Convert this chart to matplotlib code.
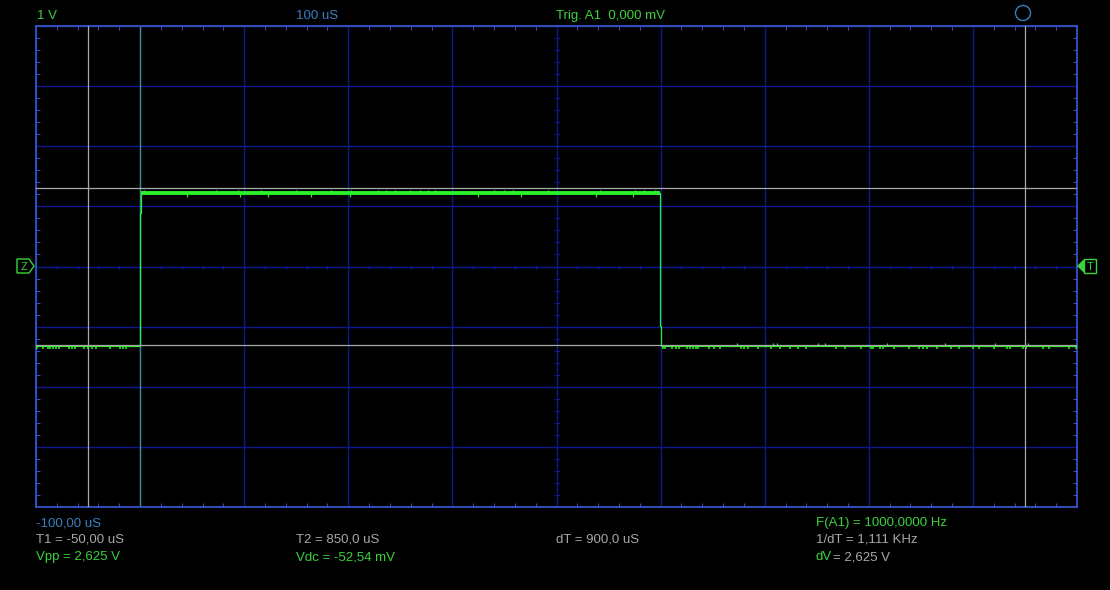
import numpy as np
import matplotlib.pyplot as plt
from matplotlib.patches import Polygon, Circle

# screen settings
t_left, t_right = -100, 900          # us, 100 uS/div
v_bottom, v_top = -4, 4              # V, 1 V/div
trig_t = 0.0
cursor_t = [-50.0, 850.0]
cursor_v = [1.3125, -1.3125]

# trace (step levels)
trace_t = [-100, 0.0, 0.0, 1.2, 1.2, 499.4, 499.4, 500.7, 500.7, 900]
trace_v = [-1.325, -1.325, 0.89, 0.89, 1.215, 1.215, -0.99, -0.99, -1.325, -1.325]
high_level = 1.215
low_level = -1.325

# small glitches on the trace (us)
low_down_t = [-99.0, -93.3, -88.5, -86.5, -83.7, -80.8, -77.9, -68.3, -65.4, -62.5,
              -53.9, -50.0, -46.2, -42.4, -28.9, -19.3, -16.4, -13.5,
              502.3, 504.2, 510.9, 514.8, 517.7, 525.4, 528.2, 531.1, 534.0, 535.9,
              546.5, 551.3, 557.1, 577.2, 580.1, 584.0, 593.6, 606.1, 614.7, 624.3,
              632.0, 639.7, 668.5, 677.2, 692.6, 702.2, 704.1, 710.9, 713.7, 724.2,
              738.7, 748.3, 752.1, 756.0, 765.6, 779.0, 786.7, 800.1, 805.9, 820.3,
              832.8, 835.6, 848.1, 851.0, 867.3, 873.1, 892.3, 899.0]
low_up_t = [573.4, 608.0, 611.8, 651.2, 657.9, 717.5, 773.2, 821.2, 852.9]
high_up_t = [3.7, 72.9, 94.0, 116.1, 149.8, 183.4, 202.6, 228.5, 236.2, 244.9, 259.3,
             268.9, 276.6, 283.3, 340.0, 349.6, 358.2, 391.8, 441.8, 475.4, 484.1, 494.6]
high_down_t = [45.1, 96.0, 122.9, 164.2, 201.6, 324.6, 365.9, 438.0, 473.5]

GREEN = '#2cf02c'
TXT_GREEN = '#3cd23c'
BLUE_TXT = '#3a7fc4'
GRAY = '#a8a8a8'
GRID = '#0c1a8c'
FRAME = '#3555c8'
TEAL = '#3a8c98'

W, H = 1110, 590
plt.rcParams['font.family'] = ['Liberation Sans', 'DejaVu Sans']
fig = plt.figure(figsize=(W / 100, H / 100), dpi=100, facecolor='black')


def fx(px):
    return px / W


def fy(py):
    return 1 - py / H


ax = fig.add_axes([fx(36), fy(507), fx(1077) - fx(36), fy(26) - fy(507)])
ax.set_facecolor('black')
ax.set_xlim(t_left, t_right)
ax.set_ylim(v_bottom, v_top)

ax.set_xticks(np.arange(t_left, t_right + 1, 100))
ax.set_yticks(np.arange(v_bottom, v_top + 1, 1))
ax.set_xticks(np.arange(t_left, t_right + 1, 20), minor=True)
ax.set_yticks(np.arange(v_bottom, v_top + 0.01, 0.2), minor=True)
ax.grid(True, which='major', color=GRID, lw=1.0, zorder=0)
ax.tick_params(which='major', length=0, labelbottom=False, labelleft=False)
ax.tick_params(which='minor', direction='in', length=3, width=0.7, color=FRAME,
               top=True, right=True, labelbottom=False, labelleft=False)
for s in ax.spines.values():
    s.set_color(FRAME)
    s.set_linewidth(1.3)

# centre line minor ticks
mid_t = (t_left + t_right) / 2
xm = np.arange(t_left, t_right + 1, 20)
ax.plot(xm, np.zeros_like(xm), ls='none', marker='|', ms=3.5, mew=0.8, color=GRID, zorder=1)
ym = np.arange(v_bottom, v_top + 0.01, 0.2)
ax.plot(np.full_like(ym, mid_t), ym, ls='none', marker='_', ms=5, mew=0.8, color=GRID, zorder=1)

# trigger position line
ax.axvline(trig_t, color=TEAL, lw=1.0, zorder=2)

# trace
tv = np.array(trace_v)
tt = np.array(trace_t)
ax.plot(tt, tv, color=GREEN, lw=0.9, zorder=3)
hi = tv == high_level
ax.plot(tt[hi], tv[hi], color=GREEN, lw=2.8, solid_capstyle='butt', zorder=3)
ax.vlines(low_down_t, low_level, low_level - 0.045, color=GREEN, lw=1.1, zorder=3)
ax.vlines(low_up_t, low_level, low_level + 0.06, color=GREEN, lw=0.9, zorder=3)
ax.vlines(high_up_t, high_level, high_level + 0.05, color=GREEN, lw=0.9, zorder=3)
ax.vlines(high_down_t, high_level, high_level - 0.055, color=GREEN, lw=0.9, zorder=3)

# cursors
for c in cursor_t:
    ax.axvline(c, color=GRAY, lw=0.9, zorder=4)
for c in cursor_v:
    ax.axhline(c, color=GRAY, lw=0.9, zorder=4)

# top status line
fs = 9.5
fig.text(fx(37), fy(19), '1 V', color=TXT_GREEN, fontsize=fs, va='baseline')
fig.text(fx(296), fy(19), '100 uS', color=BLUE_TXT, fontsize=fs, va='baseline')
fig.text(fx(556), fy(19), 'Trig. A1  0,000 mV', color=TXT_GREEN, fontsize=fs, va='baseline')
fig.patches.append(Circle((10.23, (H - 13) / 100), 0.075, transform=fig.dpi_scale_trans,
                          fill=False, ec=BLUE_TXT, lw=1.0))

# bottom readouts
fig.text(fx(36), fy(526), '-100,00 uS', color=BLUE_TXT, fontsize=fs, va='baseline')
fig.text(fx(36), fy(543), 'T1 = -50,00 uS', color=GRAY, fontsize=fs, va='baseline')
fig.text(fx(36), fy(560), 'Vpp = 2,625 V', color=TXT_GREEN, fontsize=fs, va='baseline')
fig.text(fx(296), fy(543), 'T2 = 850,0 uS', color=GRAY, fontsize=fs, va='baseline')
fig.text(fx(296), fy(560), 'Vdc = -52,54 mV', color=TXT_GREEN, fontsize=fs, va='baseline')
fig.text(fx(556), fy(543), 'dT = 900,0 uS', color=GRAY, fontsize=fs, va='baseline')
fig.text(fx(816), fy(526), 'F(A1) = 1000,0000 Hz', color=TXT_GREEN, fontsize=fs, va='baseline')
fig.text(fx(816), fy(543), '1/dT = 1,111 KHz', color=GRAY, fontsize=fs, va='baseline')
fig.text(fx(816), fy(560), 'dV', color=TXT_GREEN, fontsize=fs, va='baseline')
fig.text(fx(833), fy(560), '= 2,625 V', color=GRAY, fontsize=fs, va='baseline')

# ground marker (Z) on the left
zx = [17, 29, 34, 29, 17]
zy = [259, 259, 266, 273, 273]
fig.patches.append(Polygon([(fx(a), fy(b)) for a, b in zip(zx, zy)], closed=True,
                           transform=fig.transFigure, fill=False, ec=TXT_GREEN, lw=1.0))
fig.text(fx(24), fy(266.5), 'Z', color=TXT_GREEN, fontsize=8, ha='center', va='center')

# trigger level marker (T) on the right
fig.patches.append(Polygon([(fx(1078), fy(266)), (fx(1084), fy(260)), (fx(1084), fy(272))],
                           closed=True, transform=fig.transFigure, fc=TXT_GREEN, ec=TXT_GREEN))
tx = [1084, 1096, 1096, 1084]
ty = [259, 259, 273, 273]
fig.patches.append(Polygon([(fx(a), fy(b)) for a, b in zip(tx, ty)], closed=True,
                           transform=fig.transFigure, fill=False, ec=TXT_GREEN, lw=1.0))
fig.text(fx(1090), fy(266.5), 'T', color=TXT_GREEN, fontsize=8, ha='center', va='center')

fig.savefig('out.png', dpi=100, facecolor='black')
